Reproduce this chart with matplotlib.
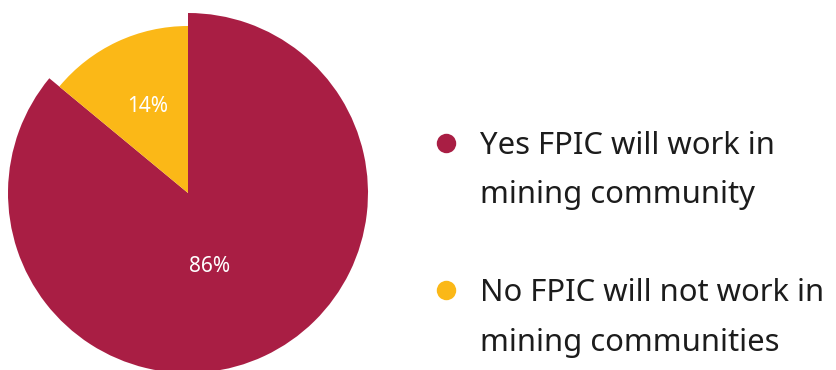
import matplotlib
matplotlib.use("Agg")
import matplotlib.pyplot as plt

labels = ["Yes FPIC will work in\nmining community",
          "No FPIC will not work in\nmining communities"]
values = [86, 14]
colors = ["#A91E44", "#FBB817"]

W, H = 836, 370
fig = plt.figure(figsize=(W / 100, H / 100), dpi=100)
ax = fig.add_axes([0, 0, 1, 1])

cx, cy = 188, H - 193
wedges, _, pcts = ax.pie(values, colors=colors, startangle=90, counterclock=False,
                         center=(cx, cy), radius=180, frame=True,
                         autopct=lambda p: f"{p:.0f}%",
                         wedgeprops=dict(linewidth=0))
ax.set_xlim(0, W)
ax.set_ylim(0, H)
ax.set_aspect("equal")
ax.axis("off")
wedges[1].set_radius(167)

pct_pos = [(210, H - 267), (148, H - 106)]
for t, pos in zip(pcts, pct_pos):
    t.set_position(pos)
    t.set_color("white")
    t.set_fontsize(15)
    t.set_family("Noto Sans")
    t.set_ha("center")
    t.set_va("center")

legend_y = [H - 170.5, H - 318]
dot_y = [H - 143, H - 290]
for lab, col, y, dy in zip(labels, colors, legend_y, dot_y):
    ax.plot([446], [dy], marker="o", markersize=14, color=col, markeredgewidth=0)
    ax.text(480, y, lab, fontsize=22.3, family="Noto Sans",
            color="#1c1c1c", va="center", ha="left", linespacing=1.84)

fig.savefig("out.png", dpi=100)
